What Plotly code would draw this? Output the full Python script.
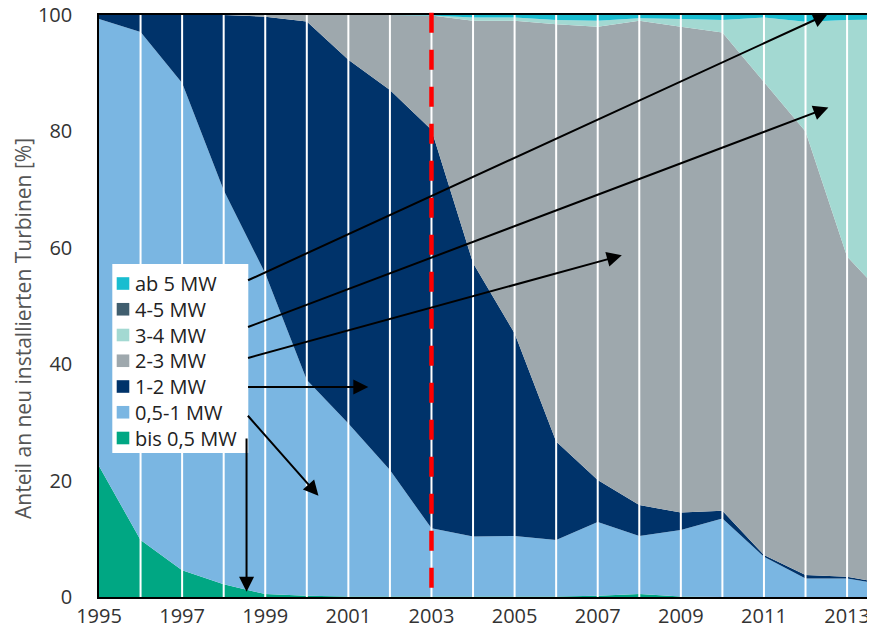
import plotly.graph_objects as go

# ---------------- data ----------------
years = [1995, 1996, 1997, 1998, 1999, 2000, 2001, 2002, 2003, 2004,
         2005, 2006, 2007, 2008, 2009, 2010, 2011, 2012, 2013, 2014]

bis_05 = [22.5, 9.8, 4.6, 2.2, 0.5, 0.2, 0.1, 0.1, 0.1, 0.1,
          0.1, 0.1, 0.2, 0.5, 0.1, 0.0, 0.0, 0.0, 0.0, 0.0]
mw_05_1 = [76.8, 87.3, 83.7, 67.7, 55.1, 37.1, 29.7, 21.7, 11.7, 10.3,
           10.4, 9.7, 12.7, 10.0, 11.4, 13.5, 6.9, 3.2, 3.2, 2.0]
mw_1_2 = [0.7, 2.9, 11.7, 30.1, 44.1, 61.6, 62.5, 65.3, 68.5, 47.0,
          34.8, 16.9, 7.2, 5.3, 3.0, 1.3, 0.3, 0.6, 0.3, 0.2]
mw_2_3 = [0.0, 0.0, 0.0, 0.0, 0.3, 1.1, 7.7, 12.9, 19.6, 41.6,
          53.7, 71.7, 77.9, 83.2, 83.5, 82.2, 81.3, 76.2, 55.0, 48.7]
mw_3_4 = [0.0, 0.0, 0.0, 0.0, 0.0, 0.0, 0.0, 0.0, 0.0, 0.55,
          0.55, 0.75, 1.0, 0.45, 1.3, 2.15, 11.05, 18.85, 40.65, 48.3]
mw_4_5 = [0.0, 0.0, 0.0, 0.0, 0.0, 0.0, 0.0, 0.0, 0.0, 0.0,
          0.0, 0.0, 0.0, 0.0, 0.0, 0.0, 0.0, 0.0, 0.0, 0.0]
ab_5 = [0.0, 0.0, 0.0, 0.0, 0.0, 0.0, 0.0, 0.0, 0.1, 0.45,
        0.45, 0.85, 1.0, 0.55, 0.7, 0.85, 0.45, 1.15, 0.85, 0.8]

series_names = ["bis 0,5 MW", "0,5-1 MW", "1-2 MW", "2-3 MW", "3-4 MW", "4-5 MW", "ab 5 MW"]
series_values = [bis_05, mw_05_1, mw_1_2, mw_2_3, mw_3_4, mw_4_5, ab_5]
series_colors = ["#00a783", "#7ab6e2", "#00336a", "#9ea8ad", "#a3d9d2", "#405e6e", "#19bdd0"]

x_tick_vals = [1995, 1997, 1999, 2001, 2003, 2005, 2007, 2009, 2011, 2013]
y_tick_vals = [0, 20, 40, 60, 80, 100]
marker_year = 2003
y_title = "Anteil an neu installierten Turbinen [%]"

# arrows: (legend entry, tail year, tail %, tip year, tip %)
arrows = [
    ("ab 5 MW", 1998.55, 54.3, 2012.54, 100.2),
    ("3-4 MW", 1998.55, 46.3, 2012.55, 84.1),
    ("2-3 MW", 1998.55, 41.0, 2007.58, 58.7),
    ("1-2 MW", 1998.55, 36.1, 2001.48, 36.1),
    ("0,5-1 MW", 1998.55, 31.4, 2000.28, 17.4),
    ("bis 0,5 MW", 1998.55, 27.5, 1998.55, 0.9),
]

# ---------------- layout geometry ----------------
# the page shows the figure with an 8px body margin, so the figure is sized to fill the view
OFF = 8
W, H = 875 - OFF, 628 - OFF
ML, MR, MT, MB = 99 - OFF, 0, 15 - OFF, 31
PW, PH = W - ML - MR, H - MT - MB
px_per_year = 41.56
x_end = 1995 + PW / px_per_year


def px2paper_x(px):
    return (px - OFF - ML) / PW


def px2paper_y(py):
    return (H - MB - (py - OFF)) / PH


FONT = "Open Sans"

fig = go.Figure()
for name, vals, col in zip(series_names, series_values, series_colors):
    fig.add_trace(go.Scatter(
        x=years, y=vals, name=name, stackgroup="one", mode="none",
        fillcolor=col, line=dict(width=0), showlegend=False,
        hovertemplate="%{x}: %{y:.1f}%<extra>" + name + "</extra>",
    ))

shapes = []
# white yearly grid lines drawn above the areas
for yr in years[1:]:
    if yr < x_end:
        shapes.append(dict(type="line", xref="x", yref="paper", x0=yr, x1=yr, y0=0, y1=1,
                           line=dict(color="white", width=2), layer="above"))
# red dashed marker line
shapes.append(dict(type="line", xref="x", yref="paper", x0=marker_year, x1=marker_year,
                   y0=1.004, y1=0, line=dict(color="#ff0000", width=4.5, dash="20px,17px"),
                   layer="above"))

# legend box (manual, to match reference layout)
lg_left, lg_right, lg_top, lg_bottom = 112.3, 248.3, 264, 453
shapes.append(dict(type="rect", xref="paper", yref="paper",
                   x0=px2paper_x(lg_left), x1=px2paper_x(lg_right),
                   y0=px2paper_y(lg_bottom), y1=px2paper_y(lg_top),
                   fillcolor="white", line=dict(width=0), layer="above"))

annotations = []
legend_order = list(zip(series_names, series_colors))[::-1]
first_center, step = 283.5, 25.75
for i, (name, col) in enumerate(legend_order):
    cy = first_center + i * step
    shapes.append(dict(type="rect", xref="paper", yref="paper",
                       x0=px2paper_x(116.7), x1=px2paper_x(129.3),
                       y0=px2paper_y(cy + 6.3), y1=px2paper_y(cy - 6.3),
                       fillcolor=col, line=dict(width=0), layer="above"))
    annotations.append(dict(xref="paper", yref="paper", x=px2paper_x(133.5), y=px2paper_y(cy),
                            xanchor="left", yanchor="middle", text=name, showarrow=False,
                            borderpad=0,
                            font=dict(family=FONT, size=20, color="#222222")))

for name, tx, ty, hx, hy in arrows:
    annotations.append(dict(xref="x", yref="y", axref="x", ayref="y",
                            x=hx, y=hy, ax=tx, ay=ty, text="", showarrow=True,
                            arrowhead=2, arrowsize=1.5, arrowwidth=2, arrowcolor="black",
                            standoff=0, startstandoff=0))

# y-axis title placed like the reference (centred lower than the plot middle)
annotations.append(dict(xref="paper", yref="paper", x=px2paper_x(23), y=px2paper_y(329),
                        xanchor="center", yanchor="middle", textangle=-90, text=y_title,
                        showarrow=False, borderpad=0,
                        font=dict(family=FONT, size=21, color="#555555")))

fig.update_layout(
    width=W, height=H,
    margin=dict(l=ML, r=MR, t=MT, b=MB, pad=0, autoexpand=False),
    paper_bgcolor="white", plot_bgcolor="white",
    showlegend=False,
    shapes=shapes, annotations=annotations,
    font=dict(family=FONT, color="#333333"),
    xaxis=dict(range=[1995, x_end], tickvals=x_tick_vals, ticks="", showgrid=False,
               zeroline=False, showline=True, linecolor="black", linewidth=2, mirror=True,
               automargin=False,
               tickfont=dict(family=FONT, size=20, color="#333333"), ticklabelstandoff=0),
    yaxis=dict(range=[0, 100], tickvals=y_tick_vals, ticks="", showgrid=False,
               zeroline=False, showline=True, linecolor="black", linewidth=1.5,
               automargin=False, ticklabeloverflow="allow",
               tickfont=dict(family=FONT, size=20, color="#333333"), ticklabelstandoff=21),
)

fig.write_html("out.html")
